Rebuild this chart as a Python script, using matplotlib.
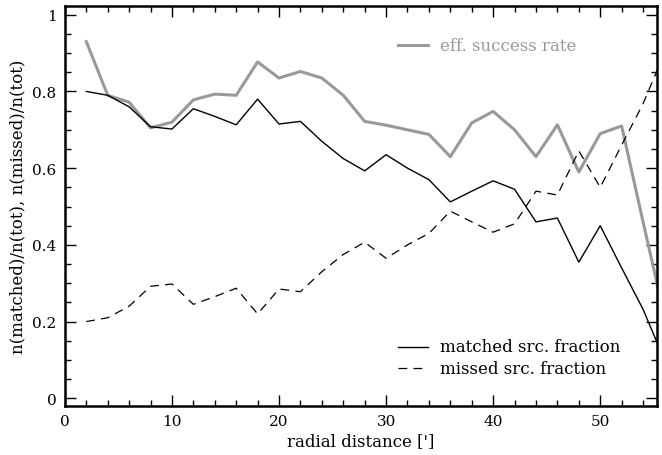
import matplotlib
matplotlib.use("Agg")
import matplotlib.pyplot as plt
from matplotlib.ticker import MultipleLocator

# radial bins (arcmin)
radius = [2, 4, 6, 8, 10, 12, 14, 16, 18, 20, 22, 24, 26, 28,
          30, 32, 34, 36, 38, 40, 42, 44, 46, 48, 50, 52, 54, 56]

# fraction of matched sources
matched = [0.800, 0.790, 0.760, 0.708, 0.702, 0.755, 0.735, 0.713, 0.780, 0.715,
           0.722, 0.670, 0.625, 0.593, 0.635, 0.600, 0.570, 0.512, 0.540, 0.567,
           0.545, 0.460, 0.470, 0.355, 0.450, 0.340, 0.232, 0.100]

# fraction of missed sources
missed = [0.200, 0.210, 0.240, 0.292, 0.298, 0.245, 0.265, 0.287, 0.220, 0.285,
          0.278, 0.330, 0.375, 0.407, 0.365, 0.400, 0.430, 0.488, 0.460, 0.433,
          0.455, 0.540, 0.530, 0.645, 0.550, 0.660, 0.768, 0.900]

# effective success rate
success = [0.930, 0.790, 0.772, 0.705, 0.720, 0.778, 0.793, 0.790, 0.877, 0.835,
           0.852, 0.835, 0.790, 0.722, 0.712, 0.700, 0.688, 0.630, 0.718, 0.748,
           0.700, 0.630, 0.713, 0.590, 0.690, 0.710, 0.460, 0.215]

plt.rcParams['font.family'] = 'DejaVu Serif'
fs = 12

fig = plt.figure(figsize=(6.62, 4.56), dpi=100)
ax = fig.add_axes([0.098, 0.1075, 0.8944, 0.8765])

ax.plot(radius, success, color='#999999', lw=2.2)
ax.plot(radius, matched, color='black', lw=1.0)
ax.plot(radius, missed, color='black', lw=0.9, dashes=(7, 5))

ax.set_xlim(0, 55.3)
ax.set_ylim(-0.02, 1.022)

ax.xaxis.set_major_locator(MultipleLocator(10))
ax.xaxis.set_minor_locator(MultipleLocator(2))
ax.yaxis.set_major_locator(MultipleLocator(0.2))
ax.yaxis.set_minor_locator(MultipleLocator(0.05))
ax.yaxis.set_major_formatter(plt.FuncFormatter(lambda v, p: '%g' % round(v, 2)))
ax.tick_params(which='both', direction='in', top=True, right=True, labelsize=11, width=1)
ax.tick_params(which='major', length=8, pad=6)
ax.tick_params(which='minor', length=4)
for s in ax.spines.values():
    s.set_linewidth(1.8)

ax.set_xlabel("radial distance [']", fontsize=fs, labelpad=3)
ax.set_ylabel("n(matched)/n(tot), n(missed)/n(tot)", fontsize=fs, labelpad=4)

# hand-made legends, IDL style
ax.plot([31.1, 33.9], [0.92, 0.92], color='#999999', lw=2.2)
ax.text(35.0, 0.92, "eff. success rate", color='#999999', fontsize=fs, va='center')
ax.plot([31.1, 33.9], [0.135, 0.135], color='black', lw=1.0)
ax.text(35.0, 0.135, "matched src. fraction", color='black', fontsize=fs, va='center')
ax.plot([31.1, 33.9], [0.078, 0.078], color='black', lw=0.9, dashes=(7, 5))
ax.text(35.0, 0.078, "missed src. fraction", color='black', fontsize=fs, va='center')

fig.savefig("out.png", dpi=100)
